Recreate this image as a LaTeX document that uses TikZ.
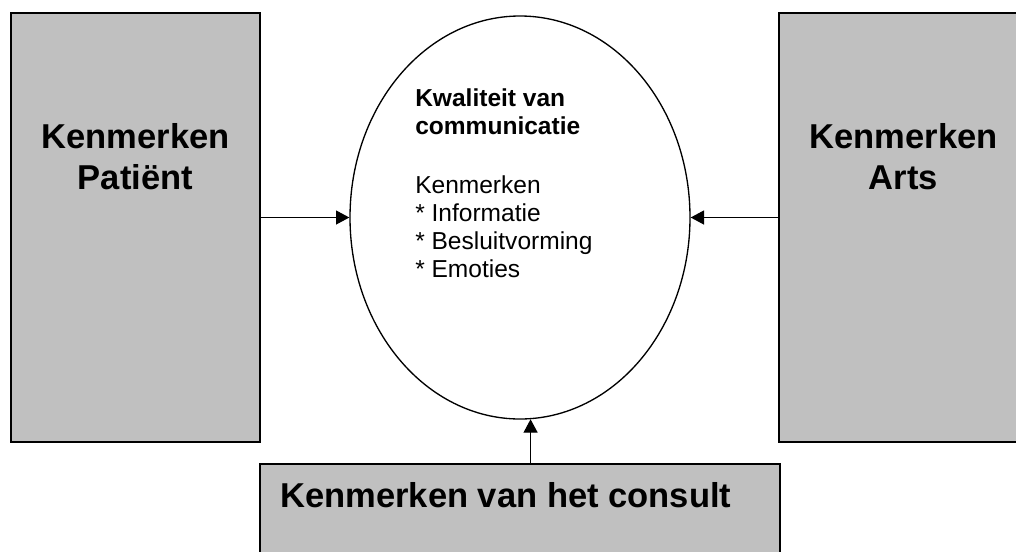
\documentclass[tikz,border=0pt]{standalone}
\usepackage{fontspec}
\setmainfont{Liberation Sans}
\usetikzlibrary{shapes.geometric,arrows.meta}
\tikzset{
  graybox/.style={draw=black, line width=1.2pt, fill={rgb,255:red,192;green,192;blue,192}, inner sep=0pt},
  heading/.style={font=\fontsize{25.9}{30}\selectfont\bfseries, inner sep=0pt, anchor=base},
  ovaltitle/.style={font=\fontsize{18.4}{21}\selectfont\bfseries, inner sep=0pt, anchor=base west},
  ovaltext/.style={font=\fontsize{18.4}{21}\selectfont, inner sep=0pt, anchor=base west},
  arr/.style={line width=0.9pt, -{Triangle[length=10pt,width=10.5pt]}}
}
\begin{document}
\begin{tikzpicture}[x=0.75pt,y=-0.75pt]
\path[use as bounding box, clip] (0,0) rectangle (1016,551);
\fill[white] (0,0) rectangle (1016,551);
% boxes
\node[graybox, minimum width=186.75pt, minimum height=321.75pt] (pat) at (135.5,227.5) {};
\node[graybox, minimum width=186.75pt, minimum height=321.75pt] (arts) at (903.5,227.5) {};
\node[graybox, minimum width=390pt, minimum height=117pt] (cons) at (520,542) {};
% ellipse
\node[ellipse, draw=black, line width=1pt, fill=white, inner sep=0pt, minimum width=255pt, minimum height=302.25pt] (ell) at (520,217.5) {};
% headings
\node[heading] (p1) at (135.5,148) {Kenmerken};
\node[heading] (p2) at (135.5,189) {Patiënt};
\node[heading] (a1) at (903.5,148) {Kenmerken};
\node[heading] (a2) at (903.5,189) {Arts};
\node[heading, anchor=base west] (c1) at (280,507) {Kenmerken van het consult};
% ellipse text
\node[ovaltitle] (t1) at (415,106) {Kwaliteit van};
\node[ovaltitle] (t2) at (415,134) {communicatie};
\node[ovaltext] (t3) at (415,193) {Kenmerken};
\node[ovaltext] (t4) at (415,221.5) {* Informatie};
\node[ovaltext] (t5) at (415,249.5) {* Besluitvorming};
\node[ovaltext] (t6) at (415,277) {* Emoties};
% arrows
\draw[arr] (ell.west -| pat.east) -- (ell.west);
\draw[arr] (ell.east -| arts.west) -- (ell.east);
\draw[arr] (cons.north -| ell.273) -- (ell.273);
\end{tikzpicture}
\end{document}
